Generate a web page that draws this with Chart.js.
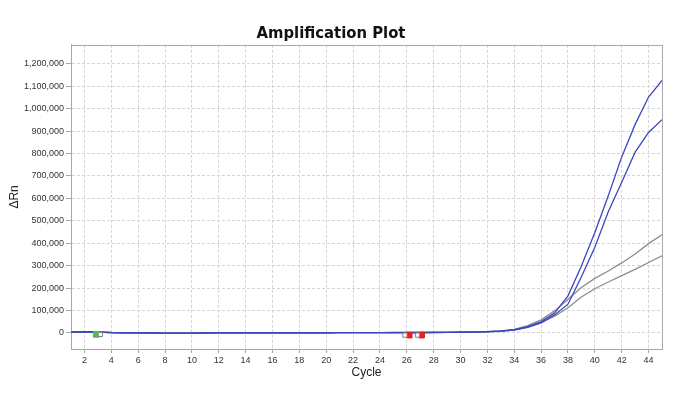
<!DOCTYPE html>
<html>
<head>
<meta charset="utf-8">
<script src="https://cdn.jsdelivr.net/npm/chart.js@4"></script>
<style>
  body { margin: 0; background: #fff; }
  #wrap { width: 690px; height: 396px; }
</style>
</head>
<body>
<div id="wrap"><canvas id="myChart"></canvas></div>
<script>
// cycles 1..45
const cycles = [1, 2, 3, 4, 5, 6, 7, 8, 9, 10, 11, 12, 13, 14, 15, 16, 17, 18, 19, 20, 21, 22, 23,
    24, 25, 26, 27, 28, 29, 30, 31, 32, 33, 34, 35, 36, 37, 38, 39, 40, 41, 42, 43, 44, 45];

// delta Rn per cycle
const blueHigh = [4000, 5000, 4000, 1500, 500, 0, -500, -800, -1000, -800, -500, 0, 200, 300, 200, 0,
    200, 300, 500, 600, 800, 1000, 1200, 1300, 1500, 1500, 1500, 1800, 2200, 3000, 4000, 5500, 8500,
    14000, 28000, 50000, 88000, 165000, 298000, 448000, 612000, 785000, 930000, 1052000, 1126000];
const blueLow = [3000, 4000, 3500, 1200, 300, -200, -600, -900, -1000, -900, -600, -200, 0, 200, 100, 0,
    100, 200, 400, 500, 700, 900, 1000, 1200, 1300, 1400, 1400, 1700, 2000, 2700, 3600, 5000, 7500,
    12000, 24000, 44000, 80000, 128000, 250000, 382000, 540000, 672000, 806000, 894000, 951000];
const grayHigh = [3500, 4500, 3800, 1300, 400, -100, -500, -800, -900, -800, -500, -100, 100, 200, 100, 0,
    100, 300, 400, 600, 800, 900, 1100, 1300, 1400, 1500, 1600, 1900, 2300, 3100, 4200, 5800, 8000,
    16000, 32000, 58000, 98000, 150000, 202000, 243000, 276000, 312000, 352000, 398000, 438000];
const grayLow = [3000, 4000, 3400, 1100, 200, -300, -700, -900, -1000, -900, -600, -200, 0, 100, 0, -100,
    0, 200, 300, 500, 700, 800, 1000, 1100, 1300, 1400, 1500, 1700, 2100, 2800, 3800, 5200, 7000,
    13000, 26000, 46000, 74000, 112000, 160000, 197000, 227000, 255000, 283000, 314000, 344000];

// baseline start / end markers (cycle, delta Rn)
const startMarkers = [{ x: 2.88, y: -7000 }];
const startMarkersOpen = [{ x: 3.18, y: -7000 }];
const endMarkers = [{ x: 26.18, y: -10000 }, { x: 27.1, y: -10000 }];
const endMarkersOpen = [{ x: 25.86, y: -10000 }, { x: 26.8, y: -10000 }];

// tick labels
const cycleTicks = [2, 4, 6, 8, 10, 12, 14, 16, 18, 20, 22, 24, 26, 28, 30, 32, 34, 36, 38, 40, 42, 44];
const rnTicks = [0, 100000, 200000, 300000, 400000, 500000, 600000, 700000, 800000, 900000,
    1000000, 1100000, 1200000];

const toPoints = arr => arr.map((v, i) => ({ x: cycles[i], y: v }));

const blue = 'rgb(58, 72, 190)';
const gray = 'rgb(140, 140, 140)';

function lineSet(values, color) {
    return {
        type: 'line',
        data: toPoints(values),
        borderColor: color,
        borderWidth: 1.3,
        pointRadius: 0,
        tension: 0,
        fill: false
    };
}

function markerSet(points, fill, border, radius) {
    return {
        type: 'scatter',
        data: points,
        pointStyle: 'rect',
        pointRadius: radius,
        pointBackgroundColor: fill,
        pointBorderColor: border,
        pointBorderWidth: 1,
        showLine: false
    };
}

// box around the plot area (top and right edges)
const frame = {
    id: 'frame',
    beforeDatasetsDraw(chart) {
        const a = chart.chartArea;
        const ctx = chart.ctx;
        ctx.save();
        ctx.strokeStyle = '#a8a8a8';
        ctx.lineWidth = 1;
        ctx.strokeRect(Math.round(a.left) + 0.5, Math.round(a.top) + 0.5,
            Math.round(a.right - a.left), Math.round(a.bottom - a.top));
        ctx.restore();
    }
};

const myChart = document.getElementById('myChart');

new Chart(myChart, {
    data: {
        datasets: [
            markerSet(startMarkersOpen, '#ffffff', '#808080', 3),
            markerSet(startMarkers, 'rgb(80, 190, 70)', 'rgb(80, 190, 70)', 4),
            markerSet(endMarkersOpen, '#ffffff', '#808080', 3),
            markerSet(endMarkers, 'rgb(235, 30, 30)', 'rgb(235, 30, 30)', 4),
            lineSet(blueHigh, blue),
            lineSet(blueLow, blue),
            lineSet(grayHigh, gray),
            lineSet(grayLow, gray)
        ]
    },
    options: {
        responsive: true,
        maintainAspectRatio: false,
        animation: false,
        layout: { padding: { left: 0, right: 28, top: 0, bottom: 14 } },
        plugins: {
            legend: { display: false },
            tooltip: { enabled: false },
            title: {
                display: true,
                text: 'Amplification Plot',
                color: '#111',
                font: { family: "'DejaVu Sans Condensed', 'DejaVu Sans', sans-serif", size: 16.5, weight: 'bold' },
                padding: { top: 24, bottom: 1 }
            }
        },
        scales: {
            x: {
                type: 'linear',
                min: 1,
                max: 45,
                afterBuildTicks: s => { s.ticks = cycleTicks.map(v => ({ value: v })); },
                afterFit: s => { s.height = 33; },
                ticks: {
                    color: '#333',
                    font: { family: "'Liberation Sans', Arial, sans-serif", size: 9 },
                    padding: 2,
                    maxRotation: 0
                },
                grid: {
                    color: '#d4d4d4',
                    tickLength: 4,
                    tickColor: '#a8a8a8',
                    tickBorderDash: []
                },
                border: { color: '#a8a8a8', dash: [3, 2] },
                title: {
                    display: true,
                    text: 'Cycle',
                    color: '#222',
                    font: { family: "'Liberation Sans', Arial, sans-serif", size: 12 },
                    padding: { top: 2, bottom: 2 }
                }
            },
            y: {
                type: 'linear',
                min: -72000,
                max: 1285000,
                afterBuildTicks: s => { s.ticks = rnTicks.map(v => ({ value: v })); },
                afterFit: s => { s.width = 71; },
                ticks: {
                    color: '#333',
                    font: { family: "'Liberation Sans', Arial, sans-serif", size: 9 },
                    padding: 2,
                    callback: v => v.toLocaleString('en-US')
                },
                grid: {
                    color: '#d4d4d4',
                    tickLength: 5,
                    tickColor: '#a8a8a8',
                    tickBorderDash: []
                },
                border: { color: '#a8a8a8', dash: [3, 2] },
                title: {
                    display: true,
                    text: 'ΔRn',
                    color: '#222',
                    font: { family: "'Liberation Sans', Arial, sans-serif", size: 12 },
                    padding: { top: 7, bottom: 2 }
                }
            }
        }
    },
    plugins: [frame]
});
</script>
</body>
</html>
